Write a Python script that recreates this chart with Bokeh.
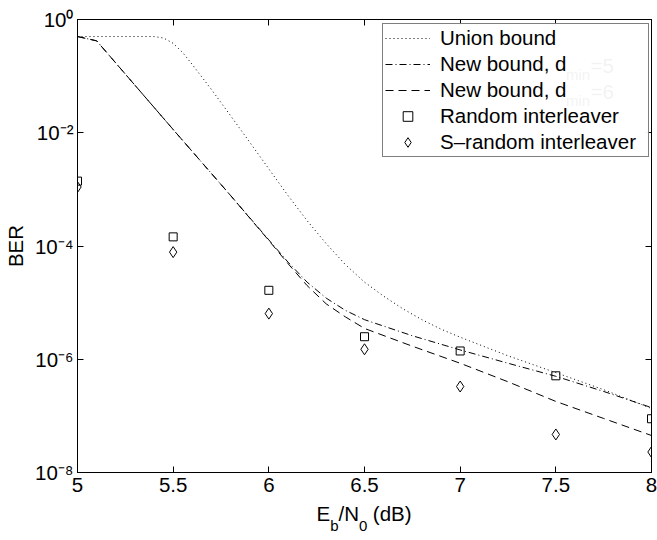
from bokeh.plotting import figure
from bokeh.models import (LogAxis, LinearAxis, FixedTicker, Legend, LegendItem, Label,
                          NumeralTickFormatter, CustomJSTickFormatter)
from bokeh.embed import file_html
from bokeh.resources import INLINE

# ---------------- data ----------------
x_ticks = [5, 5.5, 6, 6.5, 7, 7.5, 8]
y_exps = [-8, -6, -4, -2, 0]
y_tick_labels = ["10\u207b\u2078", "10\u207b\u2076", "10\u207b\u2074", "10\u207b\u00b2", "10\u2070"]

union_x = [5.0, 5.1, 5.2, 5.3, 5.4, 5.45, 5.5, 5.55, 5.6, 5.7, 5.8, 5.9, 6.0, 6.1, 6.2,
           6.3, 6.4, 6.5, 6.6, 6.7, 6.8, 6.9, 7.0, 7.25, 7.5, 7.75, 8.0]
union_y = [0.5, 0.5, 0.5, 0.5, 0.5, 0.47, 0.38, 0.26, 0.16, 0.058, 0.02, 0.0068, 0.0023,
           7.8e-4, 2.8e-4, 1.1e-4, 4.7e-5, 2.3e-5, 1.3e-5, 7.8e-6, 5.0e-6, 3.4e-6, 2.45e-6,
           1.15e-6, 5.8e-7, 2.9e-7, 1.35e-7]

nb_x = [5.0, 5.1, 5.5, 5.8, 6.0, 6.1, 6.2, 6.3, 6.4, 6.5, 6.75, 7.0, 7.25, 7.5, 7.75, 8.0]
nb5_y = [0.5, 0.42, 0.0114, 7.8e-4, 1.28e-4, 5.2e-5, 2.3e-5, 1.2e-5, 7.3e-6, 5.0e-6,
         2.6e-6, 1.46e-6, 8.5e-7, 5.0e-7, 2.7e-7, 1.4e-7]
nb6_y = [0.5, 0.42, 0.0114, 7.8e-4, 1.25e-4, 4.9e-5, 2.0e-5, 9.5e-6, 5.6e-6, 3.5e-6,
         1.7e-6, 8.5e-7, 4.0e-7, 1.8e-7, 9.0e-8, 4.5e-8]

sim_x = [5.0, 5.5, 6.0, 6.5, 7.0, 7.5, 8.0]
random_y = [1.4e-3, 1.45e-4, 1.65e-5, 2.5e-6, 1.4e-6, 5.1e-7, 8.9e-8]
srandom_y = [1.1e-3, 7.8e-5, 6.4e-6, 1.5e-6, 3.3e-7, 4.7e-8, 2.3e-8]

# x-axis title pieces: E_b/N_0 (dB)  (text, horizontal centre offset in px from x=6.5)
xlab_main = ["E", "/N", "(dB)"]
xlab_main_dx = [-41.2, -15.7, 27.8]
xlab_sub = ["b", "0"]
xlab_sub_dx = [-30.1, -1.3]

X_MIN, X_MAX = 5, 8
Y_MIN, Y_MAX = 1e-8, 1.0

# ---------------- layout ----------------
W, H = 657, 540
F_L, F_R, F_T, F_B = 75, 651, 19, 472     # frame edges in pixels
px_per_x = (F_R - F_L) / (X_MAX - X_MIN)
FONT = "Liberation Sans"
FS = "20.5px"
FS_SUB = "15px"
INK = "#000000"

p = figure(width=W, height=H, x_range=(X_MIN, X_MAX), y_range=(Y_MIN, Y_MAX),
           y_axis_type="log", output_backend="svg", toolbar_location=None,
           min_border_left=F_L, min_border_right=W - F_R, min_border_top=F_T,
           min_border_bottom=H - F_B)
p.xgrid.visible = False
p.ygrid.visible = False
p.outline_line_color = INK
p.outline_line_width = 1
p.background_fill_color = "white"
p.border_fill_color = "white"

blank = CustomJSTickFormatter(code="return ''")
y_tick_vals = [10.0 ** e for e in y_exps]

# bottom axis with tick labels
xa = p.xaxis[0]
xa.ticker = FixedTicker(ticks=x_ticks)
xa.formatter = NumeralTickFormatter(format="0.[0]")
xa.major_tick_in = 6
xa.major_tick_out = 0
xa.minor_tick_line_color = None
xa.axis_line_color = INK
xa.major_tick_line_color = INK
xa.major_label_text_font = FONT
xa.major_label_text_font_size = FS
xa.major_label_text_color = INK
xa.major_label_standoff = 5

# axis title E_b/N_0 (dB): main-size pieces and subscript pieces on two label rows
def piece_axis(texts, dxs, size, standoff):
    ticks = [6.5 + d / px_per_x for d in dxs]
    ax = LinearAxis(ticker=FixedTicker(ticks=ticks),
                    formatter=CustomJSTickFormatter(args=dict(labels=texts),
                                                    code="return labels[index]"),
                    major_tick_in=0, major_tick_out=0, major_tick_line_color=None,
                    minor_tick_line_color=None, axis_line_color=None,
                    major_label_standoff=standoff, major_label_text_font=FONT,
                    major_label_text_font_size=size, major_label_text_color=INK)
    return ax

p.add_layout(piece_axis(xlab_main, xlab_main_dx, FS, 7), "below")
p.add_layout(piece_axis(xlab_sub, xlab_sub_dx, FS_SUB, -11), "below")

# left axis: 10^e labels + BER title
ya = p.yaxis[0]
ya.ticker = FixedTicker(ticks=y_tick_vals)
ya.formatter = CustomJSTickFormatter(args=dict(labels=y_tick_labels),
                                     code="return labels[index]")
ya.major_tick_in = 6
ya.major_tick_out = 0
ya.minor_tick_line_color = None
ya.axis_line_color = INK
ya.major_tick_line_color = INK
ya.major_label_text_font = FONT
ya.major_label_text_font_size = FS
ya.major_label_text_color = INK
ya.major_label_standoff = 4
ya.axis_label = "BER"
ya.axis_label_text_font = FONT
ya.axis_label_text_font_size = FS
ya.axis_label_text_font_style = "normal"
ya.axis_label_text_color = INK
ya.axis_label_standoff = 5

# top & right axes: inward ticks only
top = LinearAxis(ticker=FixedTicker(ticks=x_ticks), formatter=blank,
                 major_tick_in=6, major_tick_out=0, minor_tick_line_color=None,
                 major_label_text_font_size="0px", major_label_standoff=0,
                 axis_line_color=INK, major_tick_line_color=INK)
right = LogAxis(ticker=FixedTicker(ticks=y_tick_vals), formatter=blank,
                major_tick_in=6, major_tick_out=0, minor_tick_line_color=None,
                major_label_text_font_size="0px", major_label_standoff=0,
                axis_line_color=INK, major_tick_line_color=INK)
p.add_layout(top, "above")
p.add_layout(right, "right")

# curves and simulation points
r_union = p.line(union_x, union_y, line_color=INK, line_width=1, line_dash="1 3")
r_nb5 = p.line(nb_x, nb5_y, line_color=INK, line_width=1, line_dash="7 3 1 3")
r_nb6 = p.line(nb_x, nb6_y, line_color=INK, line_width=1, line_dash="8 5")
r_rand = p.scatter(sim_x, random_y, marker="square", size=8, fill_color=None,
                   line_color=INK, line_width=1)
r_srand = p.scatter(sim_x, srandom_y, marker="diamond", size=11, fill_color=None,
                    line_color=INK, line_width=1)

# legend (screen units from bottom-left of the frame)
LEG_L, LEG_T = 380, 25
PAD, GW, STAND, LH, SP, LW = 2, 45, 10, 24, 2, 206
leg_h = 2 * PAD + 5 * LH + 4 * SP
LEG_X = LEG_L - F_L
LEG_Y = (F_B - F_T) - (LEG_T - F_T) - leg_h
legend = Legend(items=[
    LegendItem(label="Union bound", renderers=[r_union]),
    LegendItem(label="New bound, d", renderers=[r_nb5]),
    LegendItem(label="New bound, d", renderers=[r_nb6]),
    LegendItem(label="Random interleaver", renderers=[r_rand]),
    LegendItem(label="S\u2013random interleaver", renderers=[r_srand]),
], location=(LEG_X, LEG_Y), padding=PAD, spacing=SP, label_height=LH, glyph_height=LH,
    glyph_width=GW, label_standoff=STAND, label_width=LW, border_line_color=INK,
    border_line_width=1, label_text_font=FONT, label_text_font_size=FS,
    label_text_color=INK, margin=0)
p.add_layout(legend)

leg_top = LEG_Y + leg_h
text_left = LEG_X + PAD + GW + STAND
w_newbound = 126.5
w_min = 24.5
for i, val in [(1, "=5"), (2, "=6")]:
    cy = leg_top - PAD - i * (LH + SP) - LH / 2
    p.add_layout(Label(x=text_left + w_newbound, y=cy - 9, x_units="screen", y_units="screen",
                       text="min", text_font=FONT, text_font_size=FS_SUB, text_color=INK,
                       text_baseline="middle", text_align="left"))
    p.add_layout(Label(x=text_left + w_newbound + w_min, y=cy, x_units="screen", y_units="screen",
                       text=val, text_font=FONT, text_font_size=FS, text_color=INK,
                       text_baseline="middle", text_align="left"))

open("out.html", "w").write(file_html(p, INLINE))
